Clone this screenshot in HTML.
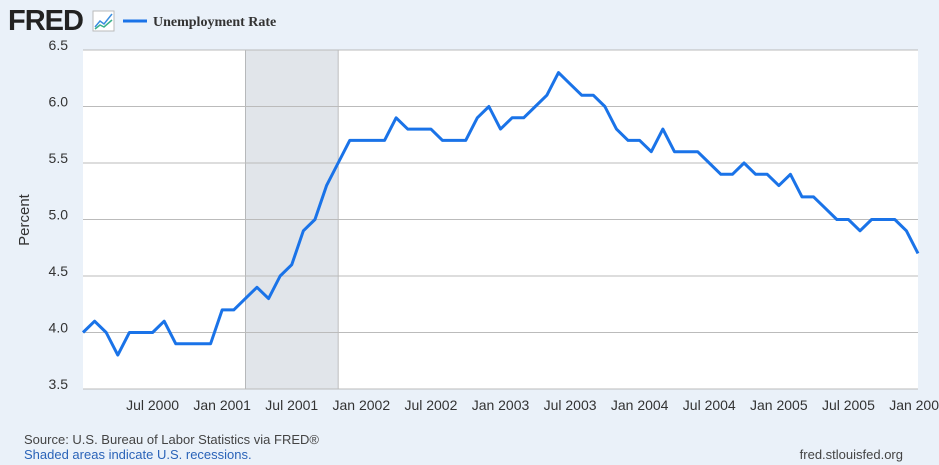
<!DOCTYPE html>
<html><head><meta charset="utf-8"><style>
body{margin:0;width:939px;height:465px;background:#eaf1f9;font-family:"Liberation Sans",sans-serif;overflow:hidden;position:relative}
svg{position:absolute;left:0;top:0}
</style></head><body>
<svg width="939" height="465">
<text x="8" y="30" font-size="29" font-weight="bold" fill="#222" letter-spacing="-1">FRED</text>
<g><rect x="93" y="11" width="21" height="20" fill="#fff" stroke="#bbb"/><polyline points="95,27 100,21 104,24 112,14" fill="none" stroke="#3a8ee0" stroke-width="1.5"/><polyline points="95,29 100,25 104,27 112,20" fill="none" stroke="#3ab08a" stroke-width="1.5"/></g>
<line x1="123" y1="21" x2="147" y2="21" stroke="#1a73e8" stroke-width="3"/>
<text x="153" y="26" font-family="Liberation Serif,serif" font-weight="bold" font-size="14" fill="#333">Unemployment Rate</text>
<text x="29" y="220" font-size="15" fill="#333" transform="rotate(-90 29 220)" text-anchor="middle">Percent</text>
<rect x="83" y="50" width="835" height="339" fill="#fff"/>
<g id="g"></g>
<text x="24" y="444" font-size="13" fill="#444">Source: U.S. Bureau of Labor Statistics via FRED®</text>
<text x="24" y="459" font-size="13" fill="#2a63b8">Shaded areas indicate U.S. recessions.</text>
<text x="903" y="459" font-size="13" fill="#444" text-anchor="end">fred.stlouisfed.org</text>
</svg>
<script>
const values=[4.0,4.1,4.0,3.8,4.0,4.0,4.0,4.1,3.9,3.9,3.9,3.9,
4.2,4.2,4.3,4.4,4.3,4.5,4.6,4.9,5.0,5.3,5.5,5.7,
5.7,5.7,5.7,5.9,5.8,5.8,5.8,5.7,5.7,5.7,5.9,6.0,
5.8,5.9,5.9,6.0,6.1,6.3,6.2,6.1,6.1,6.0,5.8,5.7,
5.7,5.6,5.8,5.6,5.6,5.6,5.5,5.4,5.4,5.5,5.4,5.4,
5.3,5.4,5.2,5.2,5.1,5.0,5.0,4.9,5.0,5.0,5.0,4.9,4.7];
const yTicks=[3.5,4.0,4.5,5.0,5.5,6.0,6.5];
const xTickMonths=[6,12,18,24,30,36,42,48,54,60,66,72];
const xTickLabels=["Jul 2000","Jan 2001","Jul 2001","Jan 2002","Jul 2002","Jan 2003","Jul 2003","Jan 2004","Jul 2004","Jan 2005","Jul 2005","Jan 2006"];
const recession=[14,22];
const X=m=>83+m*(835/72), Y=v=>389-(v-3.5)*(339/3);
const g=document.getElementById('g'),NS='http://www.w3.org/2000/svg';
function mk(t,a){const e=document.createElementNS(NS,t);for(const k in a)e.setAttribute(k,a[k]);g.appendChild(e);return e;}
const r=mk('rect',{x:X(recession[0]),y:50,width:X(recession[1])-X(recession[0]),height:339,fill:'#e1e5ea',stroke:'#999','stroke-width':0.6});


yTicks.forEach(v=>{
 const l=mk('line',{x1:83,x2:918,y1:Y(v),y2:Y(v),stroke:'#bbb','stroke-width':1});
 
 
 const t=mk('text',{x:68,y:Y(v),'font-size':14,fill:'#333','text-anchor':'end'});t.textContent=v.toFixed(1);
 
 
});
xTickMonths.forEach((m,i)=>{
 const t=mk('text',{x:X(m),y:410,'font-size':14,fill:'#333','text-anchor':'middle'});t.textContent=xTickLabels[i];
 
 
});
const p=mk('polyline',{points:values.map((v,i)=>X(i)+','+Y(v)).join(' '),fill:'none',stroke:'#1a73e8','stroke-width':3,'stroke-linejoin':'round'});


</script>
</body></html>
